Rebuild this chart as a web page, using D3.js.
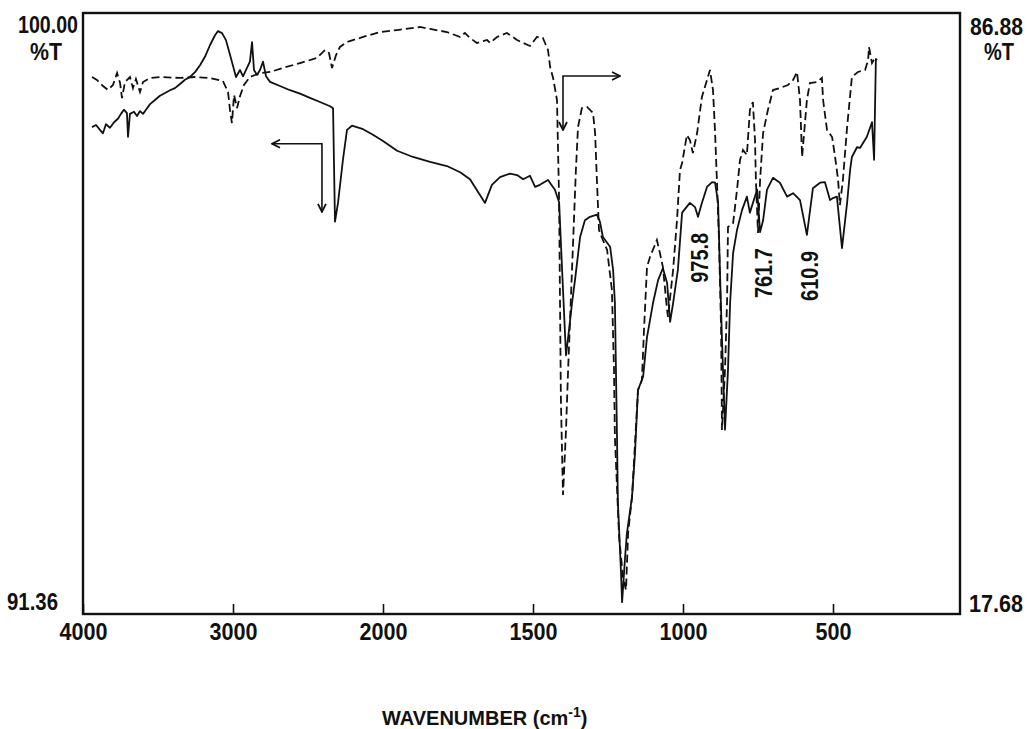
<!DOCTYPE html>
<html>
<head>
<meta charset="utf-8">
<script src="https://cdn.jsdelivr.net/npm/d3@7"></script>
<style>
body { margin: 0; background: #fff; }
svg text { font-family: "Liberation Sans", Arial, sans-serif; font-weight: bold; fill: #111; }
</style>
</head>
<body>
<script>
// IR spectrum, two traces. solid one reads on the left %T scale, dashed one on the right scale
var solidWn = [3940,3913,3887,3867,3847,3820,3793,3767,3747,3727,
  3707,3700,3687,3660,3640,3620,3600,3580,3553,3520,
  3487,3453,3420,3387,3353,3320,3287,3253,3220,3187,
  3153,3120,3100,3073,3047,3020,3000,2980,2953,2933,
  2907,2887,2873,2860,2840,2820,2800,2780,2753,2687,
  2620,2553,2487,2420,2353,2333,2320,2300,2267,2240,
  2207,2133,2067,2000,1953,1900,1843,1787,1743,1710,
  1660,1637,1610,1577,1553,1533,1510,1493,1477,1450,
  1427,1413,1403,1390,1380,1370,1360,1343,1327,1310,
  1287,1277,1267,1243,1233,1227,1220,1217,1207,1203,
  1193,1187,1170,1160,1150,1133,1120,1100,1083,1067,
  1053,1043,1033,1017,1003,977,960,950,937,920,
  903,893,883,877,870,860,850,843,833,820,
  803,787,777,767,753,743,733,720,700,677,
  653,633,610,587,567,543,527,510,500,487,
  470,453,443,437,420,410,387,370,363,357];
var solidT = [98.36,98.39,98.32,98.27,98.40,98.35,98.43,98.48,98.55,98.61,
  98.56,98.22,98.55,98.58,98.52,98.59,98.55,98.61,98.69,98.75,
  98.81,98.85,98.89,98.92,98.98,99.04,99.08,99.15,99.25,99.37,
  99.54,99.68,99.74,99.71,99.61,99.40,99.24,99.08,99.18,99.09,
  99.21,99.30,99.58,99.18,99.11,99.18,99.30,99.09,99.01,98.95,
  98.89,98.84,98.78,98.72,98.66,98.63,97.00,97.27,97.89,98.32,
  98.38,98.33,98.25,98.16,98.02,97.93,97.86,97.80,97.71,97.61,
  97.27,97.53,97.64,97.69,97.67,97.61,97.66,97.50,97.53,97.60,
  97.46,97.28,96.31,95.08,95.44,95.83,96.16,96.78,97.02,97.07,
  97.10,97.00,96.78,96.64,96.31,95.83,93.91,92.96,91.99,91.53,
  92.18,92.52,93.04,93.67,94.58,94.77,95.34,95.83,96.16,96.33,
  96.12,95.56,95.83,96.31,97.13,97.27,97.21,97.07,97.27,97.50,
  97.57,97.56,97.27,96.31,95.30,94.01,94.87,95.83,96.55,96.88,
  97.17,97.36,97.13,97.27,97.46,96.85,97.02,97.46,97.63,97.56,
  97.36,97.41,97.31,96.81,97.48,97.56,97.57,97.31,97.34,97.36,
  96.62,97.27,97.74,97.93,98.07,98.06,98.22,98.43,97.89,99.35];

var dashWn = [3940,3907,3867,3833,3800,3773,3753,3740,3720,3687,
  3667,3647,3620,3600,3553,3487,3353,3253,3153,3067,
  3033,3020,3007,2993,2973,2953,2927,2887,2820,2753,
  2667,2553,2440,2387,2360,2340,2313,2287,2240,2133,
  2020,1953,1877,1843,1787,1743,1727,1710,1687,1653,
  1643,1620,1587,1553,1533,1510,1487,1467,1450,1443,
  1433,1420,1413,1407,1400,1390,1383,1370,1357,1350,
  1337,1320,1300,1293,1287,1280,1267,1253,1237,1230,
  1227,1220,1213,1200,1190,1183,1170,1150,1137,1130,
  1120,1110,1087,1077,1067,1053,1050,1033,1020,1010,
  1003,987,977,967,953,937,920,910,900,893,
  887,880,873,870,860,853,850,833,820,810,
  800,787,777,767,760,757,750,743,733,717,
  700,677,650,633,620,610,603,587,577,553,
  537,533,520,503,493,483,477,467,453,437,
  417,393,383,380,370,360,353];
var dashT = [79.51,79.17,78.47,78.01,78.59,79.97,78.82,77.09,78.93,79.51,
  78.24,79.28,77.78,78.93,79.40,79.51,79.40,79.51,79.40,79.05,
  77.78,75.71,74.21,77.44,75.94,77.32,78.59,79.51,79.97,80.09,
  80.55,81.12,81.70,82.62,82.27,80.55,82.04,82.97,83.54,84.12,
  84.69,84.92,85.27,85.04,84.69,84.12,84.58,84.00,83.43,83.77,
  83.43,84.12,84.58,83.77,83.43,83.08,84.12,84.00,82.62,80.66,
  79.40,76.86,65.35,42.32,31.38,38.87,45.77,57.29,68.80,73.75,
  75.94,76.06,75.37,73.06,67.65,61.89,60.74,59.59,54.99,45.77,
  38.06,32.30,26.55,21.94,20.44,27.01,31.15,43.47,44.62,50.38,
  57.63,58.79,60.74,59.25,57.63,52.68,51.88,57.29,63.05,68.80,
  69.61,72.83,72.26,70.76,73.06,77.21,79.17,80.32,78.01,73.06,
  67.65,60.74,50.38,38.87,45.77,53.83,62.24,62.70,66.50,69.95,
  71.11,70.53,75.71,76.63,72.26,67.65,61.55,67.65,73.06,75.71,
  78.01,78.24,78.59,79.17,80.09,76.86,70.30,76.86,78.82,78.93,
  79.40,76.86,73.41,72.60,70.30,67.65,64.77,67.65,73.75,79.51,
  80.09,80.32,81.47,82.97,81.12,81.70,81.47];

var xTicks = [4000, 3000, 2000, 1500, 1000, 500];
var leftT = [91.36, 100.00];
var rightT = [17.68, 86.88];
var peakLabels = [975.8, 761.7, 610.9];
// the two "which scale" arrows: [wavenumber, %T] on the solid / dashed scale
var arrowSolid = [[2740, 98.12], [2407, 98.12], [2407, 97.14]];
var arrowDash = [[1400, 73.41], [1400, 79.63], [1210, 79.63]];

var width = 1027, height = 729;
var mLeft = 83, mRight = 960, mTop = 13, mBottom = 614;

var svg = d3.select("body").append("svg").attr("width", width).attr("height", height);

// 4000-2000 is half as spread out as 2000-0
var x = d3.scaleLinear().domain([4000, 2000, 0]).range([mLeft, mLeft + 300, mLeft + 900]);
var yL = d3.scaleLinear().domain(leftT).range([mBottom, mTop]);
var yR = d3.scaleLinear().domain(rightT).range([mBottom, mTop]);

var defs = svg.append("defs");
defs.append("marker").attr("id", "head")
    .attr("viewBox", "0 0 10 10").attr("refX", 9).attr("refY", 5)
    .attr("markerWidth", 10).attr("markerHeight", 10)
    .attr("markerUnits", "userSpaceOnUse")
    .attr("orient", "auto-start-reverse")
  .append("path").attr("d", "M1,1 L9,5 L1,9")
    .attr("fill", "none").attr("stroke", "#111").attr("stroke-width", 1.8);

// frame
svg.append("rect")
    .attr("x", mLeft).attr("y", mTop)
    .attr("width", mRight - mLeft).attr("height", mBottom - mTop)
    .attr("fill", "none").attr("stroke", "#111").attr("stroke-width", 2.4);

// bottom axis, ticks pointing inwards
var xAxis = d3.axisBottom(x).tickValues(xTicks).tickFormat(d3.format("d"))
    .tickSizeInner(-10).tickSizeOuter(0).tickPadding(10);
var gx = svg.append("g").attr("transform", "translate(0," + mBottom + ")").call(xAxis);
gx.select(".domain").remove();
gx.selectAll(".tick line").attr("stroke", "#111").attr("stroke-width", 1.6);
gx.selectAll(".tick text")
    .attr("font-size", 23).attr("fill", "#111")
    .style("font-family", "'Liberation Sans', Arial, sans-serif").style("font-weight", "bold")
    .attr("textLength", d => String(d).length * 12)
    .attr("lengthAdjust", "spacingAndGlyphs");

var fmt = d3.format(".2f");
function label(txt, px, py, anchor, len, size) {
  svg.append("text").attr("x", px).attr("y", py)
    .attr("text-anchor", anchor).attr("font-size", size || 23)
    .attr("textLength", len).attr("lengthAdjust", "spacingAndGlyphs")
    .text(txt);
}
label(fmt(leftT[1]), 78, 33, "end", 60);
label("%T", 46, 60, "middle", 32);
label(fmt(leftT[0]), 58, 610, "end", 51);
label(fmt(rightT[1]), 970, 35, "start", 53);
label("%T", 984, 60, "start", 30);
label(fmt(rightT[0]), 969, 612, "start", 54);

// axis title with superscript
var title = svg.append("text").attr("x", 382).attr("y", 725).attr("font-size", 20);
title.append("tspan").text("WAVENUMBER (cm");
title.append("tspan").attr("dy", -8).attr("font-size", 14).text("-1");
title.append("tspan").attr("dy", 8).text(")");

// traces
var solid = d3.zip(solidWn, solidT);
var dashed = d3.zip(dashWn, dashT);

svg.append("path").datum(solid)
    .attr("fill", "none").attr("stroke", "#111").attr("stroke-width", 1.8)
    .attr("stroke-linejoin", "round")
    .attr("d", d3.line().x(d => x(d[0])).y(d => yL(d[1])));

svg.append("path").datum(dashed)
    .attr("fill", "none").attr("stroke", "#111").attr("stroke-width", 1.8)
    .attr("stroke-dasharray", "8,4")
    .attr("d", d3.line().x(d => x(d[0])).y(d => yR(d[1])));

// arrows telling which scale each trace uses
svg.append("path").datum(arrowSolid)
    .attr("fill", "none").attr("stroke", "#111").attr("stroke-width", 1.6)
    .attr("marker-start", "url(#head)").attr("marker-end", "url(#head)")
    .attr("d", d3.line().x(d => x(d[0])).y(d => yL(d[1])));
svg.append("path").datum(arrowDash)
    .attr("fill", "none").attr("stroke", "#111").attr("stroke-width", 1.6)
    .attr("marker-start", "url(#head)").attr("marker-end", "url(#head)")
    .attr("d", d3.line().x(d => x(d[0])).y(d => yR(d[1])));

// peak labels, rotated, just under the solid dip nearest each
peakLabels.forEach(function (p) {
  var near = solid.filter(d => Math.abs(d[0] - p) < 30);
  var dipY = d3.max(near, d => yL(d[1]));
  var px = x(p) + 18, py = dipY + 16;
  svg.append("text")
      .attr("transform", "translate(" + px + "," + py + ") rotate(-90)")
      .attr("text-anchor", "end").attr("font-size", 24)
      .attr("textLength", 50).attr("lengthAdjust", "spacingAndGlyphs")
      .text(p.toFixed(1));
});
</script>
</body>
</html>
